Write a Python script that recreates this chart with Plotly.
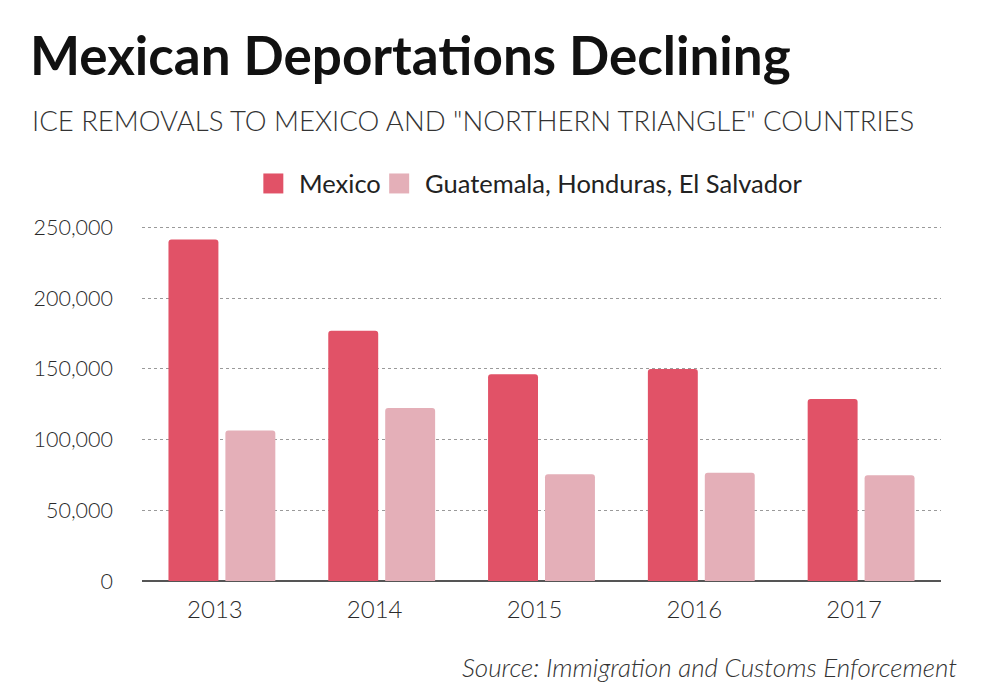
import plotly.graph_objects as go

years = ["2013", "2014", "2015", "2016", "2017"]
mexico = [241493, 176968, 146132, 149821, 128765]
northern_triangle = [106420, 122298, 75478, 76472, 74789]
series_names = ["Mexico", "Guatemala, Honduras, El Salvador"]
series_colors = ["#e15267", "#e4afb8"]
y_ticks = [0, 50000, 100000, 150000, 200000, 250000]
y_tick_labels = ["0", "50,000", "100,000", "150,000", "200,000", "250,000"]

FONT = "Lato"
W, H = 1000, 698
L, R, B = 141.5, 941.5, 581
YMAX = 251000
T = B - 354 * YMAX / 250000


def px(x):
    return (x - L) / (R - L)


def py(y):
    return (B - y) / (B - T)


fig = go.Figure()
fig.add_trace(go.Bar(x=years, y=mexico, name=series_names[0], showlegend=False,
                     marker=dict(color=series_colors[0], line=dict(width=0))))
fig.add_trace(go.Bar(x=years, y=northern_triangle, name=series_names[1], showlegend=False,
                     marker=dict(color=series_colors[1], line=dict(width=0))))

fig.update_layout(
    width=W, height=H,
    margin=dict(l=L, r=W - R, t=T, b=H - B, pad=0),
    paper_bgcolor="white", plot_bgcolor="white",
    barmode="group", bargap=0.2875, bargroupgap=0.123, barcornerradius=3,
    font=dict(family=FONT, color="#333333"),
    showlegend=False,
    xaxis=dict(showgrid=False, showline=False, ticks="",
               tickfont=dict(size=24, color="#2a2a2a", weight=300),
               ticklabelstandoff=12, ticklabelshift=-7),
    yaxis=dict(range=[0, YMAX], tickvals=y_ticks, ticktext=y_tick_labels,
               showgrid=True, gridcolor="#9a9a9a", griddash="dot", gridwidth=1,
               zeroline=True, zerolinecolor="#555555", zerolinewidth=2,
               showline=False, ticks="", ticklabelstandoff=28,
               tickfont=dict(size=21.5, color="#2a2a2a", weight=300)),
)

# legend (manual, to match square size and spacing)
legend_items = [(263, 297), (389, 423)]
for (sq_x, tx), name, color in zip(legend_items, series_names, series_colors):
    fig.add_shape(type="rect", xref="paper", yref="paper",
                  x0=px(sq_x), x1=px(sq_x + 20), y0=py(193), y1=py(173),
                  fillcolor=color, line=dict(width=0))
    fig.add_annotation(text=name, xref="paper", yref="paper", x=px(tx), y=py(183),
                       xanchor="left", yanchor="middle", showarrow=False,
                       font=dict(family=FONT, size=25.5, color="#222222"))

fig.add_annotation(text="<b>Mexican Deportations Declining</b>", xref="paper", yref="paper",
                   x=px(27), y=py(54), xanchor="left", yanchor="middle", showarrow=False,
                   font=dict(family=FONT, size=53, color="#111111"))
fig.add_annotation(text="ICE REMOVALS TO MEXICO AND \"NORTHERN TRIANGLE\" COUNTRIES",
                   xref="paper", yref="paper",
                   x=px(29), y=py(120), xanchor="left", yanchor="middle", showarrow=False,
                   font=dict(family=FONT, size=27.5, color="#333333", weight=300))
fig.add_annotation(text="<i>Source: Immigration and Customs Enforcement</i>",
                   xref="paper", yref="paper",
                   x=px(960), y=py(667), xanchor="right", yanchor="middle", showarrow=False,
                   font=dict(family=FONT, size=26, color="#333333", weight=300))

fig.write_html("out.html")
